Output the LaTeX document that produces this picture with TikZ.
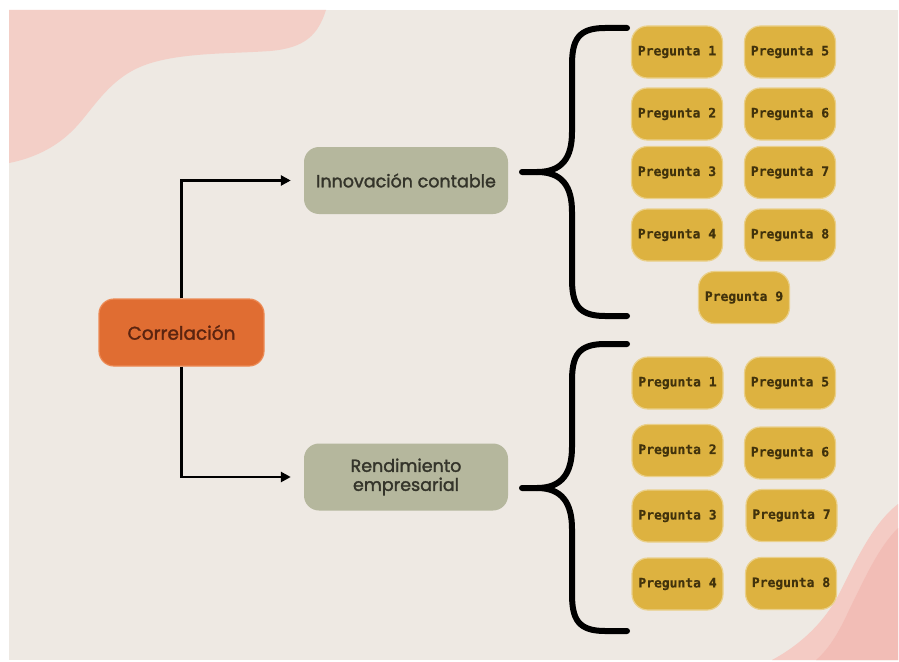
\documentclass[tikz,border=0pt]{standalone}
\usepackage{fontspec}
\setmainfont{Poppins}
\newfontfamily\labfont{Poppins}[FakeBold=1.6]
\newfontfamily\monofnt{DejaVu Sans Mono}[FakeBold=0.6]
\usetikzlibrary{arrows.meta}
\definecolor{bgbeige}{HTML}{EEE9E3}
\definecolor{pinkA}{HTML}{F3CFC7}
\definecolor{pinkB}{HTML}{F4CBC4}
\definecolor{pinkC}{HTML}{F2BDB6}
\definecolor{orangebox}{HTML}{E06D32}
\definecolor{orangeedge}{HTML}{EC8A55}
\definecolor{orangetxt}{HTML}{5B2410}
\definecolor{sage}{HTML}{B5B79D}
\definecolor{sagetxt}{HTML}{34342A}
\definecolor{mustard}{HTML}{DDB240}
\definecolor{mustardedge}{HTML}{EAD08A}
\definecolor{mustardtxt}{HTML}{41320C}
\tikzset{
  mainbox/.style={rounded corners=15pt, minimum height=67pt, align=center, inner sep=0pt},
  corrbox/.style={mainbox, fill=orangebox, draw=orangeedge, line width=1.2pt, minimum width=165pt,
     text=orangetxt, font=\labfont\fontsize{18.5}{20}\selectfont},
  varbox/.style={mainbox, fill=sage, minimum width=204pt, text=sagetxt,
     font=\labfont\fontsize{17.5}{19}\selectfont},
  qbox/.style={rounded corners=16pt, fill=mustard, draw=mustardedge, line width=1.2pt,
     minimum width=91pt, minimum height=52pt, inner sep=0pt, text=mustardtxt,
     font=\monofnt\bfseries\fontsize{13}{15}\selectfont},
  arr/.style={line width=2.6pt, -{Triangle[length=10pt,width=10pt]}, shorten >=13pt},
  bracestyle/.style={line width=6pt, line cap=round, line join=round}
}
\begin{document}
\begin{tikzpicture}[x=1pt,y=-1pt]
\useasboundingbox (0,0) rectangle (899,661);
\fill[white] (0,0) rectangle (899,661);
\begin{scope}
\clip (9,10) rectangle (898,660);
\fill[bgbeige] (9,10) rectangle (898,660);
% top-left blob
\fill[pinkA] (326,10) .. controls (318,35) and (305,48) .. (270,51)
  .. controls (230,54) and (175,52) .. (140,67)
  .. controls (105,82) and (90,115) .. (70,133)
  .. controls (50,152) and (25,160) .. (9,163) -- (9,10) -- cycle;
% bottom-right blob
\fill[pinkB] (898,504) .. controls (875,522) and (860,552) .. (840,592)
  .. controls (825,622) and (800,645) .. (772,660) -- (898,660) -- cycle;
\fill[pinkC] (898,528) .. controls (878,548) and (865,578) .. (850,608)
  .. controls (840,630) and (830,648) .. (816,660) -- (898,660) -- cycle;
\end{scope}

% main nodes
\node[corrbox] (corr) at (181.5,332.5) {Correlación};
\node[varbox] (inn) at (406,180.5) {Innovación contable};
\node[varbox] (ren) at (406,477) {Rendimiento\\empresarial};

\draw[arr] (corr.north) |- (inn.west);
\draw[arr] (corr.south) |- (ren.west);

% braces
\draw[bracestyle] (627,28) -- (605,28) .. controls (578,28) and (572,40) .. (572,65)
  -- (572,132) .. controls (572,158) and (562,172) .. (537,172) -- (522,172);
\draw[bracestyle] (627,316) -- (605,316) .. controls (578,316) and (572,304) .. (572,279)
  -- (572,212) .. controls (572,186) and (562,172) .. (537,172);
\draw[bracestyle] (627,344) -- (605,344) .. controls (578,344) and (572,356) .. (572,381)
  -- (572,447) .. controls (572,473) and (562,488) .. (537,488) -- (522,488);
\draw[bracestyle] (627,631) -- (605,631) .. controls (578,631) and (572,619) .. (572,594)
  -- (572,529) .. controls (572,503) and (562,488) .. (537,488);

% top group
\node[qbox] (a1) at (677,52) {Pregunta 1};
\node[qbox] (a2) at (677,114) {Pregunta 2};
\node[qbox] (a3) at (677,172.5) {Pregunta 3};
\node[qbox] (a4) at (677,235) {Pregunta 4};
\node[qbox] (a5) at (790,52) {Pregunta 5};
\node[qbox] (a6) at (790,114) {Pregunta 6};
\node[qbox] (a7) at (790,172.5) {Pregunta 7};
\node[qbox] (a8) at (790,235) {Pregunta 8};
\node[qbox] (a9) at (744,297.5) {Pregunta 9};

% bottom group
\node[qbox] (b1) at (677.5,383) {Pregunta 1};
\node[qbox] (b2) at (677.5,450.5) {Pregunta 2};
\node[qbox] (b3) at (677.5,516) {Pregunta 3};
\node[qbox] (b4) at (677.5,584) {Pregunta 4};
\node[qbox] (b5) at (790,383) {Pregunta 5};
\node[qbox] (b6) at (790,453) {Pregunta 6};
\node[qbox] (b7) at (791.5,515.5) {Pregunta 7};
\node[qbox] (b8) at (791,583.5) {Pregunta 8};
\end{tikzpicture}
\end{document}
